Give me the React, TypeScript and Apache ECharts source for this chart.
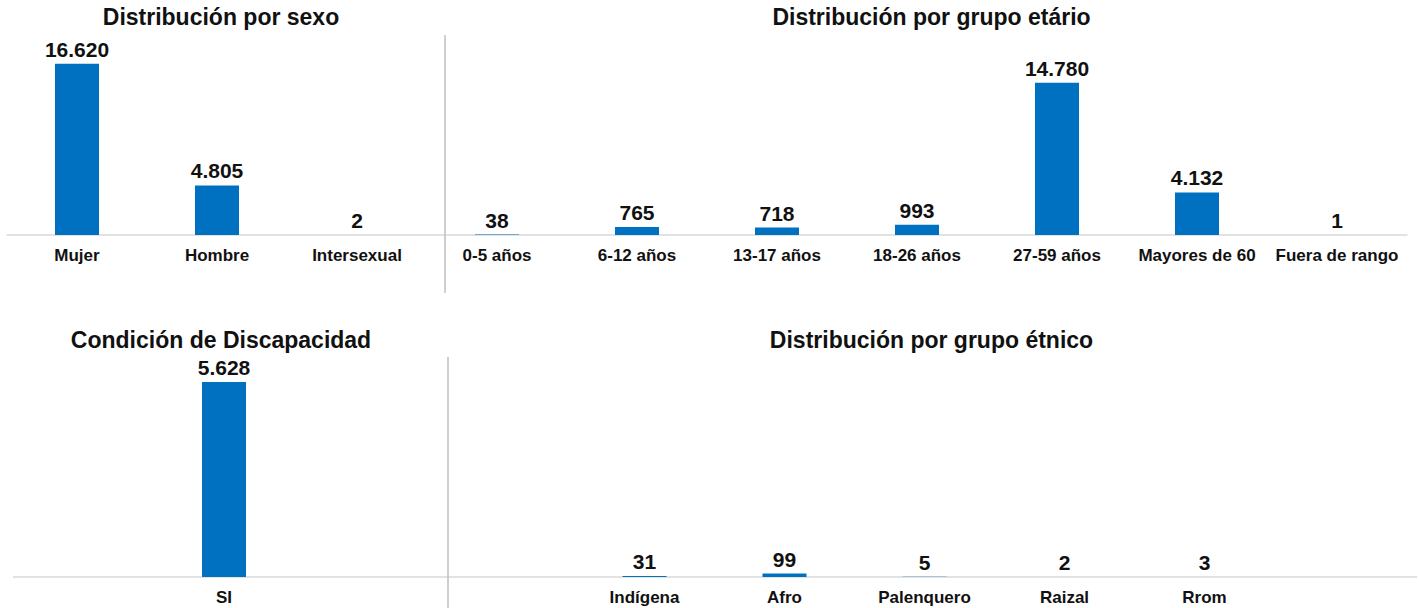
import React, { useEffect, useRef } from "react";
import * as echarts from "echarts";

const sexCategories = ["Mujer", "Hombre", "Intersexual"];
const sexValues = [16620, 4805, 2];

const ageCategories = ["0-5 años", "6-12 años", "13-17 años", "18-26 años", "27-59 años", "Mayores de 60", "Fuera de rango"];
const ageValues = [38, 765, 718, 993, 14780, 4132, 1];

const disabilityCategories = ["SI"];
const disabilityValues = [5628];

const ethnicCategories = ["Indígena", "Afro", "Palenquero", "Raizal", "Rrom"];
const ethnicValues = [31, 99, 5, 2, 3];

const titles = [
  "Distribución por sexo",
  "Distribución por grupo etário",
  "Condición de Discapacidad",
  "Distribución por grupo étnico",
];

const BLUE = "#0070C0";
const FONT = "'Liberation Sans', Arial, sans-serif";

const fmt = (v: number) => String(v).replace(/\B(?=(\d{3})+(?!\d))/g, ".");

export default function App() {
  const ref = useRef<HTMLDivElement>(null);
  useEffect(() => {
    if (!ref.current) return;
    const chart = echarts.init(ref.current, undefined, { renderer: "svg" });

    const topRow = { top: 31, height: 204 };
    const botRow = { top: 369, height: 208 };
    const grids = [
      { left: 7, width: 420, ...topRow },
      { left: 427, width: 980, ...topRow },
      { left: 13, width: 422, ...botRow },
      { left: 574.5, width: 700, ...botRow },
    ].map((g) => ({ ...g, outerBoundsMode: "none", containLabel: false }));

    const cats = [sexCategories, ageCategories, disabilityCategories, ethnicCategories];
    const vals = [sexValues, ageValues, disabilityValues, ethnicValues];
    const maxes = [19800, 19800, 6000, 6000];

    const xAxis = cats.map((c, i) => ({
      type: "category",
      gridIndex: i,
      data: c,
      axisTick: { show: false },
      axisLine: { show: i < 2, lineStyle: { color: "#d9d9d9", width: 1.5 } },
      axisLabel: {
        margin: 12,
        interval: 0,
        color: "#111",
        fontFamily: FONT,
        fontWeight: "bold",
        fontSize: 17,
      },
    }));
    const yAxis = maxes.map((m, i) => ({
      type: "value",
      gridIndex: i,
      min: 0,
      max: m,
      show: false,
      splitLine: { show: false },
    }));
    const series = vals.map((v, i) => ({
      type: "bar",
      xAxisIndex: i,
      yAxisIndex: i,
      data: v,
      barWidth: 44,
      itemStyle: { color: BLUE },
      label: {
        show: true,
        position: "top",
        distance: 4,
        color: "#111",
        fontFamily: FONT,
        fontWeight: "bold",
        fontSize: 21,
        formatter: (p: any) => fmt(p.value),
      },
    }));

    const titleCenters = [221, 931.5, 221, 931.5];
    const titleTops = [5, 5, 328, 328];
    const title = titles.map((t, i) => ({
      text: t,
      left: titleCenters[i],
      top: titleTops[i],
      textAlign: "center",
      padding: 0,
      textStyle: { fontFamily: FONT, fontWeight: "bold", fontSize: 23, color: "#111" },
    }));

    const botBase = botRow.top + botRow.height;
    chart.setOption({
      animation: false,
      backgroundColor: "#fff",
      title,
      grid: grids,
      xAxis,
      yAxis,
      series,
      graphic: [
        { type: "line", shape: { x1: 445, y1: 35, x2: 445, y2: 293 }, style: { stroke: "#bfbfbf", lineWidth: 1.5 }, z: 10 },
        { type: "line", shape: { x1: 448, y1: 357, x2: 448, y2: 608 }, style: { stroke: "#bfbfbf", lineWidth: 1.5 }, z: 10 },
        { type: "line", shape: { x1: 13, y1: botBase, x2: 1417, y2: botBase }, style: { stroke: "#d9d9d9", lineWidth: 1.5 }, z: 1 },
      ],
    });
    return () => chart.dispose();
  }, []);
  return <div ref={ref} style={{ position: "fixed", left: 0, top: 0, width: 1419, height: 608 }} />;
}
